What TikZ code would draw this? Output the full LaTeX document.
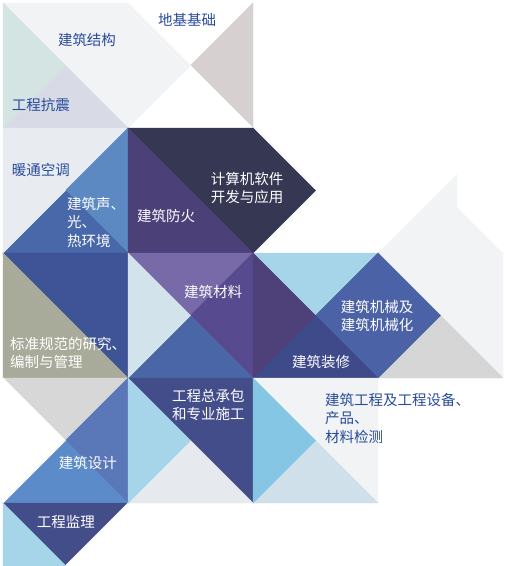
\documentclass[tikz,border=0pt]{standalone}
\usepackage{fontspec}
\newfontfamily\cjk{Noto Sans CJK SC}
\definecolor{lg}{HTML}{F2F3F5}
\definecolor{teal}{HTML}{D3E4E3}
\definecolor{lav}{HTML}{D8DBE6}
\definecolor{pinkg}{HTML}{D6D0D1}
\definecolor{hvac}{HTML}{E8ECF0}
\definecolor{blueA}{HTML}{5C89C2}
\definecolor{blueB}{HTML}{4868AA}
\definecolor{navy}{HTML}{363752}
\definecolor{purp}{HTML}{4C4079}
\definecolor{olive}{HTML}{A9AB9A}
\definecolor{blueC}{HTML}{3F5497}
\definecolor{purL}{HTML}{786AA8}
\definecolor{paleB}{HTML}{D3E3EC}
\definecolor{purM}{HTML}{584A8E}
\definecolor{blueD}{HTML}{4A66A6}
\definecolor{sky}{HTML}{A6D4E8}
\definecolor{purD}{HTML}{4E4079}
\definecolor{blueE}{HTML}{4B62A6}
\definecolor{blueF}{HTML}{3E4A8A}
\definecolor{grayA}{HTML}{D6D6D6}
\definecolor{grayB}{HTML}{D7D7D7}
\definecolor{blueG}{HTML}{5A78B8}
\definecolor{blueH}{HTML}{5B8BC8}
\definecolor{navB}{HTML}{434D8A}
\definecolor{skyB}{HTML}{A6D5EA}
\definecolor{paleG}{HTML}{E6EAEE}
\definecolor{skyC}{HTML}{85C6E4}
\definecolor{paleD}{HTML}{D0E0EA}
\definecolor{txtblue}{HTML}{284B9B}
% square: col row T R B L
\newcommand\sqtri[6]{%
  \begin{scope}[shift={(3+125*#1,3+125*#2)}]
    \filldraw[fill=#3,draw=#3,line width=0.4pt] (0,0) -- (125,0) -- (62.5,62.5) -- cycle;
    \filldraw[fill=#4,draw=#4,line width=0.4pt] (125,0) -- (125,125) -- (62.5,62.5) -- cycle;
    \filldraw[fill=#5,draw=#5,line width=0.4pt] (0,125) -- (125,125) -- (62.5,62.5) -- cycle;
    \filldraw[fill=#6,draw=#6,line width=0.4pt] (0,0) -- (0,125) -- (62.5,62.5) -- cycle;
  \end{scope}}
\begin{document}
\begin{tikzpicture}[x=1pt,y=-1pt,
  lbl/.style={inner sep=0pt,font=\cjk\fontsize{14.5}{18.5}\selectfont},
  dark/.style={lbl,text=txtblue},
  light/.style={lbl,text=white}]
\useasboundingbox (0,0) rectangle (506,566);
\begin{scope}
\clip (0,0) rectangle (506,566);
% row 0
\sqtri{0}{0}{lg}{lg}{lav}{teal}
\sqtri{1}{0}{white}{pinkg}{white}{lg}
% row 1
\sqtri{0}{1}{hvac}{blueA}{blueB}{hvac}
\sqtri{1}{1}{navy}{navy}{purp}{purp}
\filldraw[fill=navy,draw=navy,line width=0.4pt] (253,128) -- (315.5,190.5) -- (253,253) -- cycle;
\fill[lg] (378,253) -- (457,174) -- (457,207) -- (503,253) -- cycle;
% row 2
\sqtri{0}{2}{blueC}{blueC}{olive}{olive}
\sqtri{1}{2}{purL}{purM}{blueD}{paleB}
\sqtri{2}{2}{sky}{blueE}{blueF}{purD}
\sqtri{3}{2}{lg}{lg}{grayA}{blueE}
% row 3
\sqtri{0}{3}{grayB}{blueG}{blueH}{white}
\sqtri{1}{3}{navB}{navB}{paleG}{skyB}
\sqtri{2}{3}{lg}{lg}{paleD}{skyC}
% row 4
\sqtri{0}{4}{navB}{white}{white}{skyB}
\end{scope}
% labels
\node[dark] (jgjg) at (87,40) {建筑结构};
\node[dark] (gckz) at (41,105) {工程抗震};
\node[dark] (djjc) at (187,20) {地基基础};
\node[dark] (nt) at (41,170) {暖通空调};
\node[light,anchor=west,align=left] (sgr) at (67,222) {建筑声、\\光、\\热环境};
\node[light] (fh) at (166,216) {建筑防火};
\node[light,align=center] (jsj) at (247,188) {计算机软件\\开发与应用};
\node[light] (cl) at (213,292) {建筑材料};
\node[light,align=center] (jx) at (377,316) {建筑机械及\\建筑机械化};
\node[light] (zx) at (321,362) {建筑装修};
\node[light,anchor=west,align=left] (bz) at (10,353) {标准规范的研究、\\编制与管理};
\node[light,anchor=west,align=left] (zcb) at (172,405) {工程总承包\\和专业施工};
\node[light] (sj) at (88,463) {建筑设计};
\node[light] (jl) at (66,522) {工程监理};
\node[dark,anchor=west,align=left] (jc) at (325,418) {建筑工程及工程设备、\\产品、\\材料检测};
\end{tikzpicture}
\end{document}
